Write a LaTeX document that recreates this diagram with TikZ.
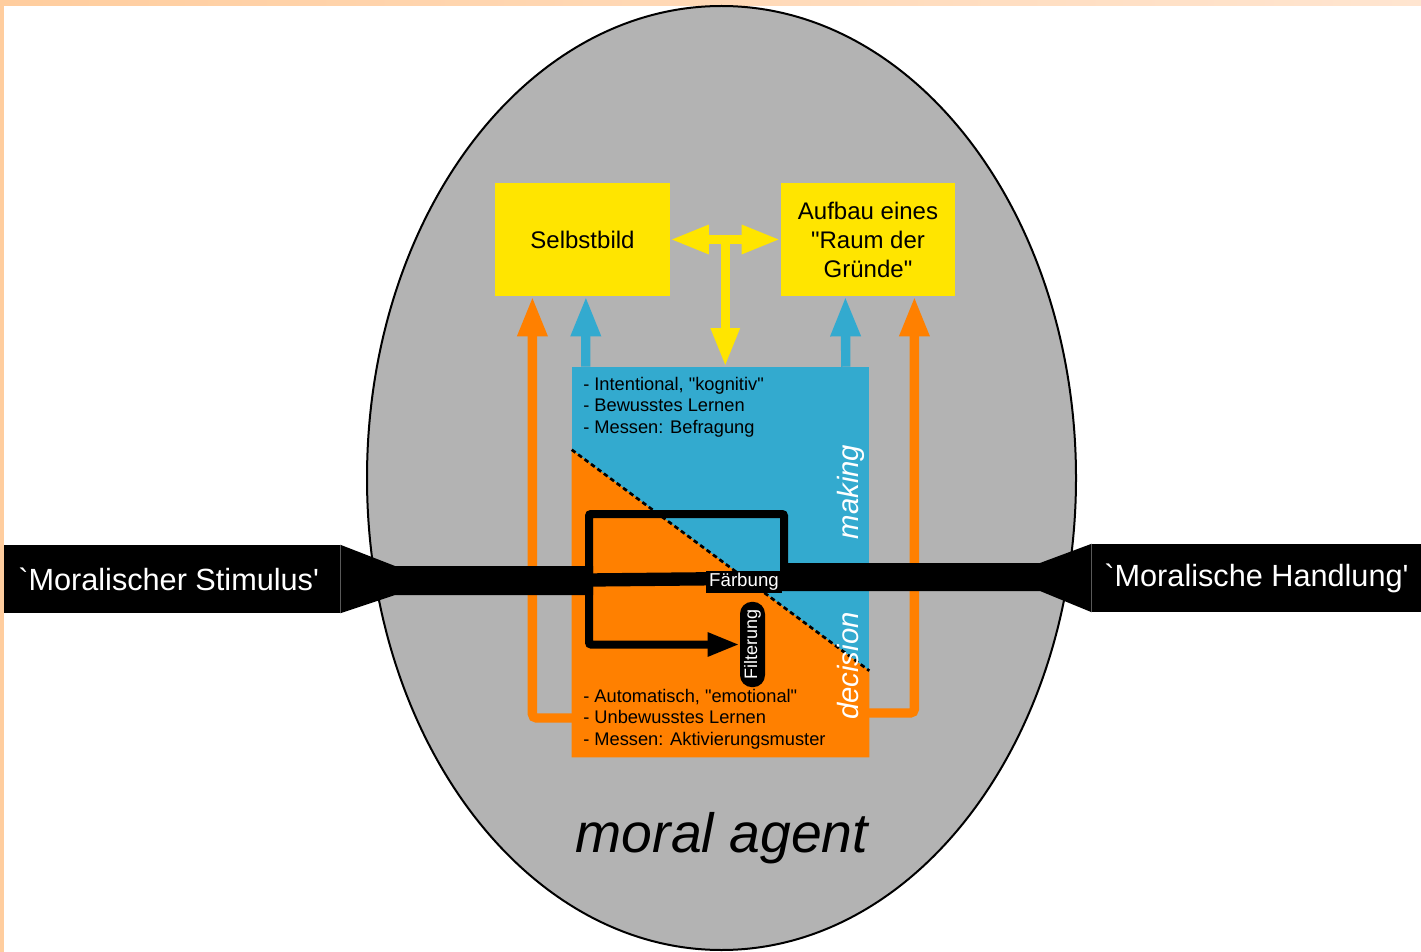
\documentclass[tikz,border=0pt]{standalone}
\usepackage{fontspec}
\setmainfont{Liberation Sans}[Ligatures=TeXOff]
\usetikzlibrary{arrows.meta,calc}
\definecolor{agentgrey}{RGB}{179,179,179}
\definecolor{cogblue}{RGB}{51,170,207}
\definecolor{emoorange}{RGB}{255,128,0}
\definecolor{selfyellow}{RGB}{255,229,0}
\definecolor{peachA}{RGB}{255,205,158}
\definecolor{peachB}{RGB}{255,229,208}
\begin{document}
\begin{tikzpicture}[x=0.75pt,y=-0.75pt,
  ybox/.style={fill=selfyellow, minimum width=131pt, minimum height=85pt, inner sep=0, align=center, font=\fontsize{18}{21.75}\selectfont},
  stimbox/.style={fill=black, text=white, minimum height=51pt, inner sep=0, font=\fontsize{23}{27}\selectfont},
  listtext/.style={anchor=north west, inner sep=0, align=left, font=\fontsize{13.7}{16.1}\selectfont},
  sidelabel/.style={rotate=90, anchor=base, inner sep=0, text=white, font=\fontsize{22}{26}\selectfont\itshape},
  thickarr/.style={line width=7pt, -{Triangle[length=30pt,width=21pt]}},
  yarrow/.style={line width=7pt, selfyellow},
  ytip/.tip={Triangle[length=29pt,width=20pt]},
  loopline/.style={line width=6pt, rounded corners=1.5pt},
  divline/.style={line width=2pt, dash pattern=on 3.5pt off 2.5pt},
]
\useasboundingbox (0,0) rectangle (1421,952);
\fill[white] (0,0) rectangle (1421,952);
% frame
\shade[left color=peachA, right color=peachB] (0,0) rectangle (1421,6);
\fill[peachA] (0,0) rectangle (4,952);
% agent
\draw[fill=agentgrey, line width=1.5pt] (721.5,478) ellipse [x radius=354.5, y radius=472];
% boxes
\node[ybox] (selbst) at (582.5,239.5) {Selbstbild};
\node[ybox] (raum) at (868,239.5) {Aufbau eines\\"Raum der\\Gründe"};
\node[minimum width=222.75pt, minimum height=292.5pt, inner sep=0, fill=cogblue] (core) at (720.5,562) {};
\coordinate (oL) at (572,718);
\coordinate (oR) at (869,713);
% orange side arrows
\draw[thickarr, emoorange, rounded corners=3pt] (oL) -| ($(selbst.south west)+(37.5,0)$);
\draw[thickarr, emoorange, rounded corners=3pt] (oR) -| ($(raum.south west)+(134,0)$);
% blue arrows
\draw[thickarr, cogblue] ($(core.north west)+(14,0)$) -- ($(selbst.south west)+(91,0)$);
\draw[thickarr, cogblue] ($(core.north west)+(274,0)$) -- ($(raum.south west)+(65,0)$);
% yellow arrows
\coordinate (ymid) at ($(selbst.east)!0.5!(raum.west)$);
\draw[yarrow, ytip-ytip] (selbst.east) -- (raum.west);
\draw[yarrow, -ytip] (ymid) -- (ymid |- core.north);
% core split
\fill[emoorange] ($(core.north west)+(0,83)$) -- ($(core.north east)+(0,304)$) |- (core.south west) -- cycle;
\draw[divline] ($(core.north west)+(0,83)$) -- ($(core.north east)+(0,304)$);
\node[listtext] (cogtext) at (583,377) {- Intentional, "kognitiv"\\- Bewusstes Lernen\\- Messen: Befragung};
\node[listtext] (emotext) at (583,689) {- Automatisch, "emotional"\\- Unbewusstes Lernen\\- Messen: Aktivierungsmuster};
\node[sidelabel] (making) at (858,492) {making};
\node[sidelabel] (decision) at (858,666) {decision};
% stimulus and action
\node[stimbox, minimum width=252pt] (stim) at (172,579) {\hspace*{-5pt}`Moralischer Stimulus'};
\node[stimbox, minimum width=246.75pt] (hand) at (1256.5,578) {`Moralische Handlung'};
\fill (stim.north east) -- (395,566) -- (593,566) -- (593,595) -- (395,595) -- (stim.south east) -- cycle;
\fill (hand.north west) -- (1040,563) -- (780,563) -- (780,591) -- (1040,591) -- (hand.south west) -- cycle;
\draw[line width=10pt] (589,580) -- (786,578);
\node[fill=black, text=white, inner xsep=2.5pt, inner ysep=1.5pt, font=\fontsize{14}{16}\selectfont] (farb) at (744,582) {Färbung};
\node[fill=black, text=white, rotate=90, rounded corners=9pt, minimum width=64pt, minimum height=18.75pt, inner sep=0, font=\fontsize{13.5}{15}\selectfont] (filt) at (752.5,644.5) {Filterung};
\draw[loopline, -{Triangle[length=24pt,width=16.5pt]}] (784,578) |- (589,514) |- (filt.north);
\node[anchor=base, font=\fontsize{41.5}{48}\selectfont\itshape] (agent) at (722,852) {moral agent};
\end{tikzpicture}
\end{document}
